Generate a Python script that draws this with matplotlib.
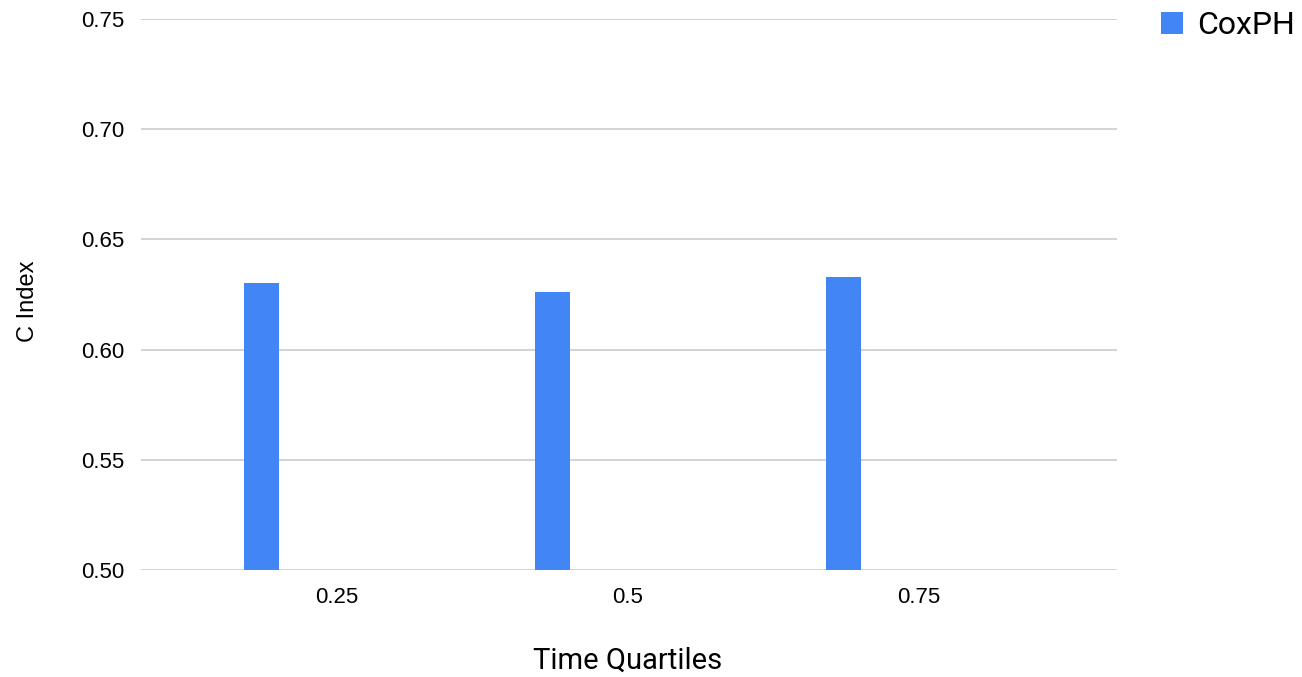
import numpy as np
import matplotlib.pyplot as plt

categories = ['0.25', '0.5', '0.75']
cox_ph = [0.630, 0.626, 0.633]
y_ticks = [0.50, 0.55, 0.60, 0.65, 0.70, 0.75]

fig = plt.figure(figsize=(13.02, 6.77), dpi=100)
ax = fig.add_axes([141 / 1302, 1 - 570 / 677, 976 / 1302, 551 / 677])

x = np.arange(len(categories))
bars = ax.bar(x - 0.26, cox_ph, width=0.12, color='#4285F4', label='CoxPH', zorder=3)

ax.set_ylim(0.50, 0.75)
ax.set_yticks(y_ticks)
ax.set_yticklabels([f'{v:.2f}' for v in y_ticks], fontsize=16, family='Liberation Sans')
ax.set_xlim(-0.6735, 2.68)
ax.set_xticks(x)
ax.set_xticklabels(categories, fontsize=16, family='Liberation Sans')

ax.grid(axis='y', color='#cccccc', linewidth=1.2, zorder=0)
ax.tick_params(length=0)
ax.tick_params(axis='y', pad=12)
ax.tick_params(axis='x', pad=12)
for s in ax.spines.values():
    s.set_visible(False)

fig.text(628 / 1302, 1 - 661 / 677, 'Time Quartiles', fontsize=21, family='Roboto',
         ha='center', va='center')
fig.text(28 / 1302, 1 - 301 / 677, 'C Index', fontsize=17, family='Liberation Sans',
         rotation=90, ha='center', va='center')

fig.legend(handles=[bars], labels=['CoxPH'], loc='upper left',
           bbox_to_anchor=(1161 / 1302, 1 - 11 / 677), frameon=False,
           prop={'family': 'Roboto', 'size': 23}, handlelength=0.68, handleheight=0.68,
           handletextpad=0.45, borderaxespad=0, borderpad=0)

fig.savefig('out.png', dpi=100, facecolor='white')
